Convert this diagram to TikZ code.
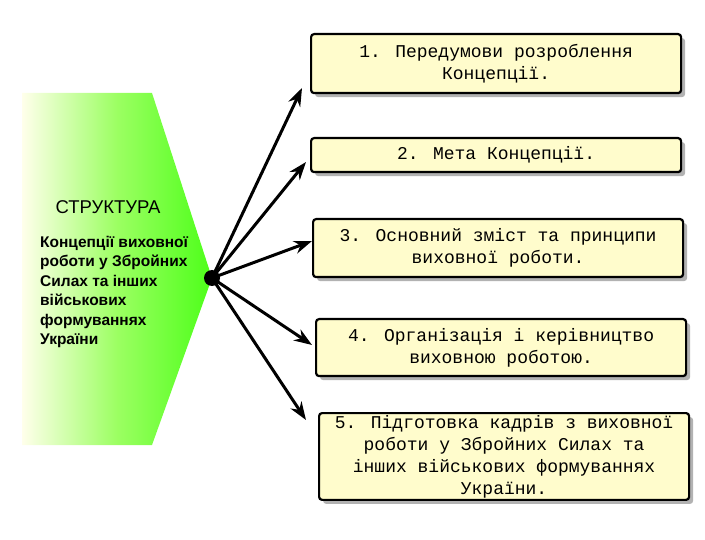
\documentclass[tikz,border=0pt]{standalone}
\usepackage{fontspec}
\setmainfont{Liberation Sans}
\newfontfamily\monof{Liberation Mono}
\usetikzlibrary{arrows.meta,shadows}
\begin{document}
\begin{tikzpicture}[x=1pt,y=-1pt,
  bx/.style={draw=black,line width=2.2pt,rounded corners=3pt,fill=yellow!20!white,
    drop shadow={shadow xshift=4pt,shadow yshift=-4pt,fill=gray!60,opacity=1},
    font=\monof\fontsize{18}{22}\selectfont,align=center,anchor=north west,inner sep=2pt},
  arr/.style={line width=3pt,-{Stealth[length=18pt,width=13pt]}}]
\useasboundingbox (0,0) rectangle (705,540);
\shade[left color=yellow!8!white,right color=green!70!lime!90!white,middle color=green!45!white!70!lime]
  (22,93) -- (152,93) -- (212,278) -- (152,445) -- (22,445) -- cycle;
\node[anchor=west,font=\fontsize{18.5}{20}\selectfont] (title) at (52,207) {СТРУКТУРА};
\node[anchor=north west,align=left,font=\bfseries\fontsize{15.5}{19.5}\selectfont,inner sep=0] (sub) at (40,236)
 {Концепції виховної\\роботи у Збройних\\Силах та інших\\військових\\формуваннях\\України};
\node[bx,minimum width=370pt,minimum height=59pt] (b1) at (310,33) {1. Передумови розроблення\\Концепції.};
\node[bx,minimum width=370pt,minimum height=34pt] (b2) at (310,137) {2. Мета Концепції.};
\node[bx,minimum width=370pt,minimum height=58pt] (b3) at (312,218) {3. Основний зміст та принципи\\виховної роботи.};
\node[bx,minimum width=370pt,minimum height=57pt] (b4) at (315,318) {4. Організація і керівництво\\виховною роботою.};
\node[bx,minimum width=370pt,minimum height=86pt] (b5) at (318,412) {5. Підготовка кадрів з виховної\\роботи у Збройних Силах та\\інших військових формуваннях\\України.};
\node[circle,fill=black,minimum size=16pt,inner sep=0] (hub) at (212,278) {};
\coordinate (e1) at (302,88);
\coordinate (e2) at (306,162);
\coordinate (e3) at (312,241);
\coordinate (e4) at (312,345);
\coordinate (e5) at (306,420);
\foreach \e in {e1,e2,e3,e4,e5} \draw[arr] (hub.center) -- (\e);
\end{tikzpicture}
\end{document}
